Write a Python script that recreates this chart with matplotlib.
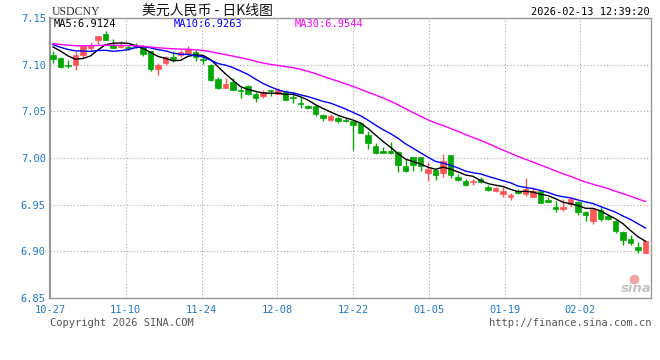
import matplotlib
matplotlib.use("Agg")
import matplotlib.pyplot as plt
import numpy as np

# ---------------- data ----------------
tick_labels = ["10-27", "11-10", "11-24", "12-08", "12-22", "01-05", "01-19", "02-02"]

opens = [7.1107, 7.107, 7.100, 7.100, 7.1107, 7.118, 7.1264, 7.133, 7.1207, 7.1193,
         7.119, 7.1214, 7.1186, 7.1143, 7.0957, 7.1014, 7.108, 7.110, 7.1128, 7.1136,
         7.106, 7.0996, 7.0846, 7.0747, 7.0811, 7.0732, 7.0768, 7.0689, 7.0661, 7.0725,
         7.0689, 7.071, 7.0654, 7.0589, 7.0554, 7.0554, 7.046, 7.0404, 7.0425, 7.0407,
         7.0393, 7.0378, 7.0243, 7.0129, 7.0071, 7.0071, 7.0064, 6.9914, 7.0007, 7.0007,
         6.9836, 6.9871, 6.9836, 7.0029, 6.9793, 6.975, 6.9743, 6.9779, 6.9686, 6.965,
         6.9614, 6.9579, 6.965, 6.9614, 6.9586, 6.9643, 6.955, 6.9479, 6.9457, 6.9507,
         6.9529, 6.9421, 6.9321, 6.9443, 6.9379, 6.9329, 6.9207, 6.9129, 6.9043, 6.8986]
closes = [7.1064, 7.098, 7.099, 7.110, 7.1197, 7.120, 7.1307, 7.1264, 7.1179, 7.1214,
          7.118, 7.119, 7.1114, 7.0957, 7.100, 7.1079, 7.106, 7.1136, 7.1171, 7.108,
          7.105, 7.0839, 7.0747, 7.0789, 7.0732, 7.0718, 7.0689, 7.064, 7.0704, 7.0718,
          7.0725, 7.0625, 7.064, 7.0575, 7.0539, 7.0475, 7.0425, 7.0454, 7.0396, 7.040,
          7.0357, 7.0271, 7.0157, 7.005, 7.005, 7.005, 6.9928, 6.9864, 6.9921, 6.9914,
          6.9879, 6.9821, 6.9971, 6.9821, 6.9764, 6.9714, 6.975, 6.9743, 6.9657, 6.9679,
          6.9643, 6.960, 6.9621, 6.9671, 6.9643, 6.9521, 6.9529, 6.9457, 6.9479, 6.9564,
          6.9421, 6.9386, 6.945, 6.935, 6.9343, 6.9214, 6.9121, 6.9086, 6.9014, 6.9107]
highs = [7.115, 7.108, 7.105, 7.115, 7.1214, 7.124, 7.1307, 7.1357, 7.127, 7.125,
         7.1214, 7.1236, 7.121, 7.1143, 7.102, 7.1093, 7.115, 7.1157, 7.120, 7.1157,
         7.109, 7.1004, 7.0868, 7.086, 7.0854, 7.076, 7.0782, 7.071, 7.0732, 7.0732,
         7.0746, 7.0725, 7.071, 7.0654, 7.0568, 7.0568, 7.0475, 7.0468, 7.0446, 7.0425,
         7.0407, 7.0386, 7.0293, 7.0157, 7.0114, 7.0171, 7.0079, 6.9986, 7.0014, 7.0007,
         6.9957, 6.9886, 7.0043, 7.0029, 6.9829, 6.9771, 6.9771, 6.980, 6.9714, 6.9693,
         6.9707, 6.9621, 6.9664, 6.9786, 6.9693, 6.9643, 6.9579, 6.9536, 6.9557, 6.9579,
         6.9536, 6.9436, 6.9457, 6.9471, 6.940, 6.9336, 6.9214, 6.9171, 6.910, 6.9107]
lows = [7.102, 7.096, 7.096, 7.094, 7.107, 7.115, 7.122, 7.1264, 7.118, 7.118,
        7.1157, 7.118, 7.109, 7.093, 7.089, 7.100, 7.103, 7.1086, 7.1107, 7.1043,
        7.101, 7.0825, 7.074, 7.0747, 7.0725, 7.0646, 7.0675, 7.0603, 7.064, 7.0664,
        7.0682, 7.0618, 7.0589, 7.0539, 7.0525, 7.0447, 7.040, 7.0396, 7.0375, 7.0386,
        7.0086, 7.0264, 7.0093, 7.0043, 7.005, 7.0043, 6.985, 6.985, 6.9857, 6.986,
        6.9757, 6.9764, 6.980, 6.9786, 6.975, 6.970, 6.9707, 6.9729, 6.9643, 6.9636,
        6.9586, 6.955, 6.9614, 6.9593, 6.9579, 6.9521, 6.9529, 6.9421, 6.9436, 6.9471,
        6.9386, 6.9329, 6.9293, 6.9321, 6.9336, 6.9193, 6.9064, 6.9064, 6.8979, 6.8986]
# closes before the visible window (needed by the moving averages)
prior_closes = [7.121, 7.124, 7.126, 7.122, 7.119, 7.120, 7.118, 7.121, 7.125, 7.127,
                7.124, 7.126, 7.123, 7.122, 7.125, 7.124, 7.121, 7.123, 7.126, 7.123,
                7.126, 7.122, 7.125, 7.121, 7.125, 7.120, 7.125, 7.128, 7.1156]

ma_periods = [5, 10, 30]
ma_label_values = ["6.9124", "6.9263", "6.9544"]

title_text = "美元人民币 - 日K线图"
symbol_text = "USDCNY"
time_text = "2026-02-13 12:39:20"
copyright_text = "Copyright 2026 SINA.COM"
url_text = "http://finance.sina.com.cn"

# ---------------- styling ----------------
RED = "#ff5555"
GREEN = "#00a800"
MA_COLORS = ["#000000", "#0000ff", "#ff00ff"]
BLUE_TXT = "#1f78c8"
W, H = 660, 360
MONO = "DejaVu Sans Mono"

fig = plt.figure(figsize=(W / 100, H / 100), dpi=100)
fig.patch.set_facecolor("white")
ax = fig.add_axes([50 / W, 62 / H, 601 / W, 280 / H])

o = np.array(opens); c = np.array(closes); hi = np.array(highs); lo = np.array(lows)
x = np.arange(len(c))
up = c >= o
colors = np.where(up, RED, GREEN)

ax.vlines(x, lo, hi, colors=colors, linewidth=1.0, zorder=3)
body_bottom = np.minimum(o, c)
body_h = np.maximum(np.abs(c - o), 0.0006)
ax.bar(x, body_h, bottom=body_bottom, width=0.7, color=colors, edgecolor=colors,
       linewidth=0.5, zorder=4)

all_c = np.concatenate([prior_closes, closes])
n_prior = len(prior_closes)
for p, col in zip(ma_periods, MA_COLORS):
    ma = np.array([all_c[i - p + 1:i + 1].mean() for i in range(n_prior, len(all_c))])
    ax.plot(x, ma, color=col, linewidth=1.0, zorder=5)

ax.set_ylim(6.85, 7.15)
ax.set_xlim(-0.4, 79.73)
yt = [6.85, 6.90, 6.95, 7.00, 7.05, 7.10, 7.15]
ax.set_yticks(yt)
ax.set_yticklabels([f"{v:.2f}" for v in yt])
tick_pos = -0.4 + 10.1 * np.arange(len(tick_labels))
ax.set_xticks(tick_pos)
ax.set_xticklabels(tick_labels)
ax.tick_params(axis="both", length=0, labelsize=7.5, labelcolor=BLUE_TXT)
ax.tick_params(axis="y", pad=3)
ax.tick_params(axis="x", pad=5)
for lab in ax.get_xticklabels() + ax.get_yticklabels():
    lab.set_family(MONO)

ax.grid(True, color="#a8a8a8", linestyle=(0, (1, 2)), linewidth=0.8, zorder=0)
for s in ax.spines.values():
    s.set_color("#999999")
    s.set_linewidth(1.0)
ax.spines["left"].set_linewidth(1.5)

def ftext(px, py, s, **kw):
    fig.text(px / W, 1 - py / H, s, **kw)

ftext(52, 12, symbol_text, family="Liberation Serif", fontsize=8.5, color="#333333",
      va="center", ha="left")
ftext(207, 11, title_text, family=["Noto Sans CJK SC", "DejaVu Sans"], fontsize=10,
      color="#111111", va="center", ha="center")
ftext(650, 12, time_text, family=MONO, fontsize=7.5, color="#000000",
      va="center", ha="right")

for px, p, val, col in zip([54, 174, 295], ma_periods, ma_label_values, MA_COLORS):
    ftext(px, 24, f"MA{p}:{val}", family=MONO, fontsize=7.5, color=col,
          va="center", ha="left")

ftext(50, 323, copyright_text, family=MONO, fontsize=7.5, color="#555555",
      va="center", ha="left")
ftext(652, 323, url_text, family=MONO, fontsize=7.5, color="#555555",
      va="center", ha="right")

# sina logo
ax.plot([634 / W], [1 - 279 / H], "o", color="#f3a5a5", ms=6,
        transform=fig.transFigure, clip_on=False, zorder=6)
ftext(636, 289, "sina", family="DejaVu Sans", fontsize=9.5, style="italic",
      weight="bold", color="#c4c4c4", va="center", ha="center")

fig.savefig("out.png", dpi=100)
